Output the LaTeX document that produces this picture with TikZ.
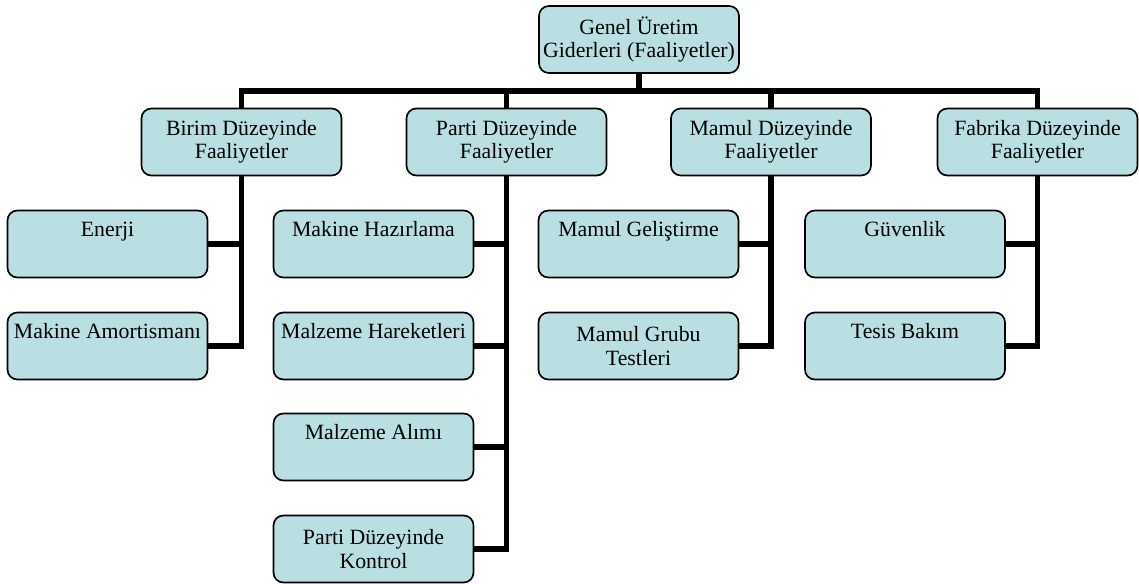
\documentclass[tikz,border=0pt]{standalone}
\usepackage{fontspec}
\setmainfont{Liberation Serif}
\usepackage{tikz}
\usetikzlibrary{positioning, calc}
\definecolor{BoxBlue}{HTML}{B9DFE2}

\begin{document}
\begin{tikzpicture}[x=0.025cm, y=-0.025cm,
    box/.style={draw=black, line width=1.2pt, rounded corners=7pt, fill=BoxBlue,
      minimum width=200*0.025cm, minimum height=67*0.025cm, align=center,
      inner sep=0pt, font=\fontsize{15.5pt}{16.5pt}\selectfont},
    conn/.style={line width=4.2pt, black}]
  \useasboundingbox (0,0) rectangle (1139,584);
  % Top
  \node[box] (root) at (639,39.5) {Genel Üretim\\Giderleri (Faaliyetler)};
  % Level one
  \node[box] (birim)   at (241.5,142) {Birim Düzeyinde\\Faaliyetler};
  \node[box] (parti)   at (506.5,142) {Parti Düzeyinde\\Faaliyetler};
  \node[box] (mamul)   at (771,142)   {Mamul Düzeyinde\\Faaliyetler};
  \node[box] (fabrika) at (1037.5,142) {Fabrika Düzeyinde\\Faaliyetler};
  % Activities
  \node[box] (enerji) at (107.5,244) {Enerji\\\strut};
  \node[box] (amort)  at (107.5,346) {Makine Amortismanı\\\strut};
  \node[box] (hazir)  at (373.5,244) {Makine Hazırlama\\\strut};
  \node[box] (harek)  at (373.5,346) {Malzeme Hareketleri\\\strut};
  \node[box] (alim)   at (373.5,447) {Malzeme Alımı\\\strut};
  \node[box] (kontrol) at (373.5,549) {Parti Düzeyinde\\Kontrol};
  \node[box] (gelis)  at (638.5,244) {Mamul Geliştirme\\\strut};
  \node[box] (test)   at (638.5,346) {Mamul Grubu\\Testleri};
  \node[box] (guven)  at (905,244) {Güvenlik\\\strut};
  \node[box] (tesis)  at (905,346) {Tesis Bakım\\\strut};
  % Connectors
  \coordinate (bar) at (639,91);
  \draw[conn] (root.south) -- (bar);
  \foreach \n in {birim, parti, mamul, fabrika}
    \draw[conn] (bar) -| (\n.south |- \n.north);
  \foreach \p/\c in {birim/enerji, birim/amort, parti/hazir, parti/harek,
                     parti/alim, parti/kontrol, mamul/gelis, mamul/test,
                     fabrika/guven, fabrika/tesis}
    \draw[conn] (\p.south) |- (\c.east);
\end{tikzpicture}
\end{document}
